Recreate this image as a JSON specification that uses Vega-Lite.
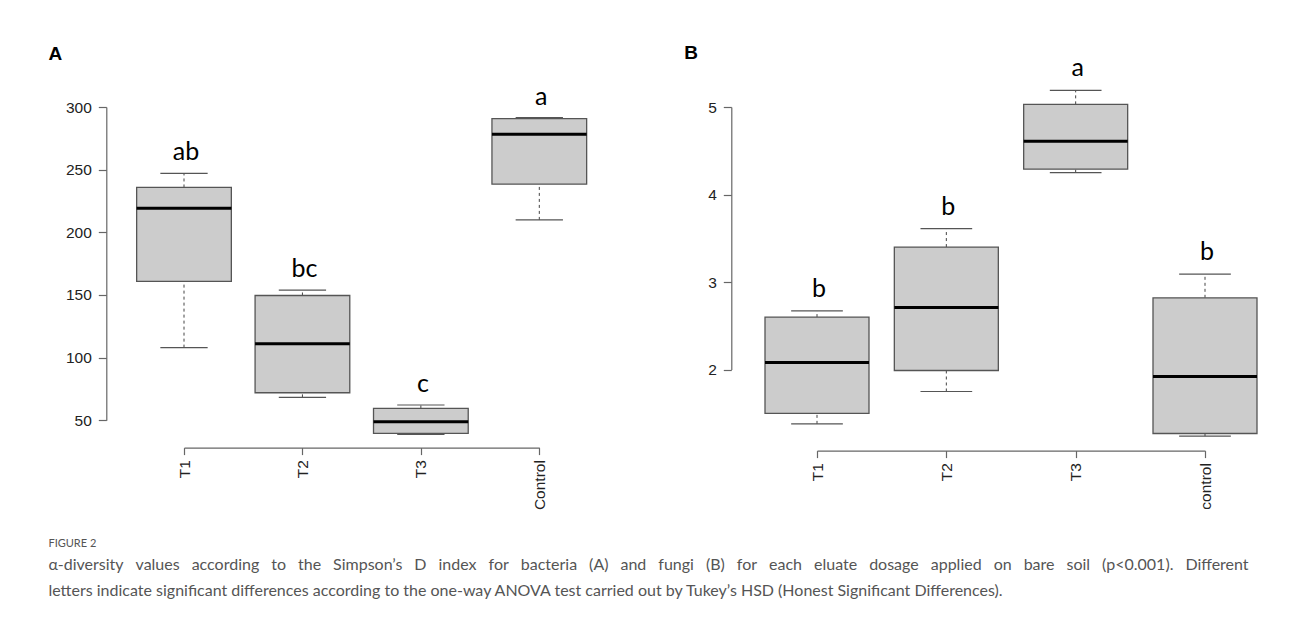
{
  "$schema": "https://vega.github.io/schema/vega-lite/v6.json",
  "background": "white",
  "padding": {"left": 48, "top": 44, "right": 10, "bottom": 10},
  "config": {"view": {"stroke": null}, "font": "Liberation Sans"},
  "title": {
    "text": "FIGURE 2",
    "subtitle": [
      "α-diversity\u2002\u2005values\u2002\u2005according\u2002\u2005to\u2002\u2005the\u2002\u2005Simpson’s\u2002\u2005D\u2002\u2005index\u2002\u2005for\u2002\u2005bacteria\u2002\u2005(A)\u2002\u2005and\u2002\u2005fungi\u2002\u2005(B)\u2002\u2005for\u2002\u2005each\u2002\u2005eluate\u2002\u2005dosage\u2002\u2005applied\u2002\u2005on\u2002\u2005bare\u2002\u2005soil\u2002\u2005(p<0.001).\u2002\u2005Different",
      "letters indicate significant differences according to the one-way ANOVA test carried out by Tukey’s HSD (Honest Significant Differences)."
    ],
    "orient": "bottom",
    "anchor": "start",
    "frame": "bounds",
    "font": "Lato",
    "fontSize": 11,
    "fontWeight": "normal",
    "color": "#555555",
    "subtitleFont": "Lato",
    "subtitleFontSize": 16,
    "subtitleColor": "#555555",
    "subtitleLineHeight": 26,
    "subtitlePadding": 8,
    "offset": 28
  },
  "bounds": "flush",
  "spacing": 277,
  "hconcat": [
    {
      "width": 355.3,
      "height": 313.3,
      "title": {"text": "A", "anchor": "start", "frame": "bounds", "font": "Liberation Sans", "fontSize": 19, "fontWeight": "bold", "color": "#000000", "dx": -17, "dy": -17},
      "data": {"values": [
        {"group": "T1", "min": 108, "q1": 160.8, "median": 219.2, "q3": 235.8, "max": 247, "letter": "ab"},
        {"group": "T2", "min": 68.3, "q1": 72, "median": 111, "q3": 149.6, "max": 153.9, "letter": "bc"},
        {"group": "T3", "min": 38.7, "q1": 39.5, "median": 48.8, "q3": 59.5, "max": 62.2, "letter": "c"},
        {"group": "Control", "min": 209.9, "q1": 238.4, "median": 278.2, "q3": 290.7, "max": 291.5, "letter": "a"}
      ]},
      "encoding": {
        "x": {"field": "group", "type": "nominal", "sort": null, "scale": {"type": "point", "padding": 0},
          "axis": {"title": null, "labelAngle": -90, "labelFont": "Liberation Sans", "labelFontSize": 15.5, "labelColor": "#222222", "domainColor": "#666666", "domainWidth": 1.2, "tickColor": "#666666", "tickWidth": 1.2, "tickSize": 7, "labelPadding": 5, "offset": 27.3, "grid": false}}
      },
      "layer": [
        {"mark": {"type": "rule", "strokeDash": [3, 3], "color": "#444444", "strokeWidth": 1},
         "encoding": {"y": {"field": "q3", "type": "quantitative", "scale": {"domain": [50, 300], "nice": false, "zero": false},
            "axis": {"title": null, "values": [50, 100, 150, 200, 250, 300], "labelFont": "Liberation Sans", "labelFontSize": 15.5, "labelColor": "#222222", "domainColor": "#666666", "domainWidth": 1.2, "tickColor": "#666666", "tickWidth": 1.2, "tickSize": 8, "labelPadding": 7, "offset": 77.7, "grid": false}},
           "y2": {"field": "max"}}},
        {"mark": {"type": "rule", "strokeDash": [3, 3], "color": "#444444", "strokeWidth": 1},
         "encoding": {"y": {"field": "min", "type": "quantitative"}, "y2": {"field": "q1"}}},
        {"mark": {"type": "tick", "color": "#555555", "opacity": 1, "thickness": 1.2, "size": 47.3},
         "encoding": {"y": {"field": "max", "type": "quantitative"}}},
        {"mark": {"type": "tick", "color": "#555555", "opacity": 1, "thickness": 1.2, "size": 47.3},
         "encoding": {"y": {"field": "min", "type": "quantitative"}}},
        {"mark": {"type": "bar", "fill": "#cccccc", "opacity": 1, "stroke": "#555555", "strokeWidth": 1.3, "size": 94.7},
         "encoding": {"y": {"field": "q1", "type": "quantitative"}, "y2": {"field": "q3"}}},
        {"mark": {"type": "tick", "color": "#000000", "opacity": 1, "thickness": 3, "size": 94.7},
         "encoding": {"y": {"field": "median", "type": "quantitative"}}},
        {"mark": {"type": "text", "font": "Lato", "fontSize": 25, "color": "#000000", "baseline": "alphabetic", "dy": -13, "dx": 2},
         "encoding": {"y": {"field": "max", "type": "quantitative"}, "text": {"field": "letter"}}}
      ]
    },
    {
      "width": 388,
      "height": 262.6,
      "title": {"text": "B", "anchor": "start", "frame": "bounds", "font": "Liberation Sans", "fontSize": 19, "fontWeight": "bold", "color": "#000000", "dx": -23.4, "dy": 11},
      "data": {"values": [
        {"group": "T1", "min": 1.38, "q1": 1.5, "median": 2.08, "q3": 2.6, "max": 2.67, "letter": "b"},
        {"group": "T2", "min": 1.75, "q1": 1.99, "median": 2.71, "q3": 3.4, "max": 3.61, "letter": "b"},
        {"group": "T3", "min": 4.25, "q1": 4.29, "median": 4.61, "q3": 5.03, "max": 5.19, "letter": "a"},
        {"group": "control", "min": 1.24, "q1": 1.27, "median": 1.92, "q3": 2.82, "max": 3.09, "letter": "b"}
      ]},
      "encoding": {
        "x": {"field": "group", "type": "nominal", "sort": null, "scale": {"type": "point", "padding": 0},
          "axis": {"title": null, "labelAngle": -90, "labelFont": "Liberation Sans", "labelFontSize": 15.5, "labelColor": "#222222", "domainColor": "#666666", "domainWidth": 1.2, "tickColor": "#666666", "tickWidth": 1.2, "tickSize": 7, "labelPadding": 5, "offset": 81, "grid": false}}
      },
      "layer": [
        {"mark": {"type": "rule", "strokeDash": [3, 3], "color": "#444444", "strokeWidth": 1},
         "encoding": {"y": {"field": "q3", "type": "quantitative", "scale": {"domain": [2, 5], "nice": false, "zero": false},
            "axis": {"title": null, "values": [2, 3, 4, 5], "format": "d", "labelFont": "Liberation Sans", "labelFontSize": 15.5, "labelColor": "#222222", "domainColor": "#666666", "domainWidth": 1.2, "tickColor": "#666666", "tickWidth": 1.2, "tickSize": 8, "labelPadding": 7, "offset": 85.7, "grid": false}},
           "y2": {"field": "max"}}},
        {"mark": {"type": "rule", "strokeDash": [3, 3], "color": "#444444", "strokeWidth": 1},
         "encoding": {"y": {"field": "min", "type": "quantitative"}, "y2": {"field": "q1"}}},
        {"mark": {"type": "tick", "color": "#555555", "opacity": 1, "thickness": 1.2, "size": 51.7},
         "encoding": {"y": {"field": "max", "type": "quantitative"}}},
        {"mark": {"type": "tick", "color": "#555555", "opacity": 1, "thickness": 1.2, "size": 51.7},
         "encoding": {"y": {"field": "min", "type": "quantitative"}}},
        {"mark": {"type": "bar", "fill": "#cccccc", "opacity": 1, "stroke": "#555555", "strokeWidth": 1.3, "size": 104},
         "encoding": {"y": {"field": "q1", "type": "quantitative"}, "y2": {"field": "q3"}}},
        {"mark": {"type": "tick", "color": "#000000", "opacity": 1, "thickness": 3, "size": 104},
         "encoding": {"y": {"field": "median", "type": "quantitative"}}},
        {"mark": {"type": "text", "font": "Lato", "fontSize": 25, "color": "#000000", "baseline": "alphabetic", "dy": -14, "dx": 2},
         "encoding": {"y": {"field": "max", "type": "quantitative"}, "text": {"field": "letter"}}}
      ]
    }
  ]
}
